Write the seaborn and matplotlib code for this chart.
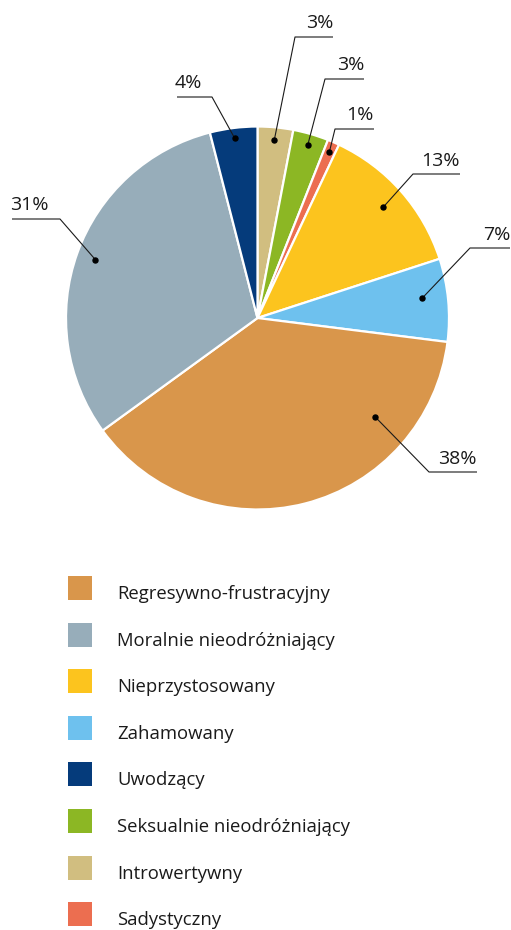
import matplotlib
matplotlib.use("Agg")
import matplotlib.pyplot as plt
from matplotlib.patches import Rectangle
import numpy as np
import seaborn as sns

# Data (clockwise from 12 o'clock)
categories = ["Introwertywny", "Seksualnie nieodróżniający", "Sadystyczny",
              "Nieprzystosowany", "Zahamowany", "Regresywno-frustracyjny",
              "Moralnie nieodróżniający", "Uwodzący"]
shares = [3, 3, 1, 13, 7, 38, 31, 4]
colors = ["#D1BE80", "#8CB724", "#EC6E50", "#FCC41E", "#6EC1EE",
          "#D9964B", "#97ADBA", "#053B7B"]

legend_order = ["Regresywno-frustracyjny", "Moralnie nieodróżniający",
                "Nieprzystosowany", "Zahamowany", "Uwodzący",
                "Seksualnie nieodróżniający", "Introwertywny", "Sadystyczny"]

sns.set_theme(style="white")
plt.rcParams["font.family"] = ["Open Sans", "DejaVu Sans"]

W, H = 511, 930
fig = plt.figure(figsize=(W / 100, H / 100), dpi=100)
ax = fig.add_axes([0, 0, 1, 1])
ax.set_xlim(0, W)
ax.set_ylim(0, H)
ax.set_aspect("equal")
ax.axis("off")

def py(y):
    # layout values are given top-down
    return H - y

cx, cy, R = 257.5, py(318), 191.5
palette = sns.color_palette(colors)
wedges, _ = ax.pie(shares, colors=palette, startangle=90, counterclock=False,
                   center=(cx, cy), radius=R,
                   wedgeprops=dict(edgecolor="white", linewidth=1.6))
ax.set_xlim(0, W)
ax.set_ylim(0, H)

# label layout: (position within wedge from its clockwise start 0..1, radial fraction,
#                elbow x, elbow y, line end x, align)
layout = {
    "Introwertywny":              (0.5, 0.935, 295, 37, 333, "right"),
    "Seksualnie nieodróżniający": (0.5, 0.94, 325, 79, 364, "right"),
    "Sadystyczny":                (0.5, 0.945, 335, 129, 374, "right"),
    "Nieprzystosowany":           (0.5, 0.875, 413, 174, 460, "right"),
    "Zahamowany":                 (0.44, 0.867, 470, 248, 510, "right"),
    "Regresywno-frustracyjny":    (0.24, 0.80, 429, 472, 477, "right"),
    "Moralnie nieodróżniający":   (0.5, 0.90, 60, 219, 12, "left"),
    "Uwodzący":                   (0.5, 0.945, 212, 97, 177, "left"),
}

for w, name, val in zip(wedges, categories, shares):
    frac, rf, ex, ey, lx, align = layout[name]
    t1, t2 = w.theta1, w.theta2
    ang = np.deg2rad(t2 - frac * (t2 - t1))
    dx = cx + rf * R * np.cos(ang)
    dy = cy + rf * R * np.sin(ang)
    ax.plot([dx, ex, lx], [dy, py(ey), py(ey)], color="#1a1a1a", lw=0.8,
            solid_capstyle="butt", zorder=3)
    ax.plot(dx, dy, "o", color="black", ms=3.6, zorder=4)
    tx = min(lx, ex) - 2 if align == "left" else max(lx, ex)
    ax.text(tx, py(ey) + 8.5, f"{val}%", ha=align, va="baseline",
            fontsize=14, color="#1a1a1a")

# legend
color_of = dict(zip(categories, colors))
top0, step = 576, 46.6
for i, name in enumerate(legend_order):
    top = top0 + i * step
    ax.add_patch(Rectangle((68, py(top + 24)), 24, 24, facecolor=color_of[name],
                           edgecolor="none"))
    ax.text(117, py(top + 23), name, ha="left", va="baseline",
            fontsize=13.3, color="#1a1a1a")

fig.savefig("out.png", dpi=100)
